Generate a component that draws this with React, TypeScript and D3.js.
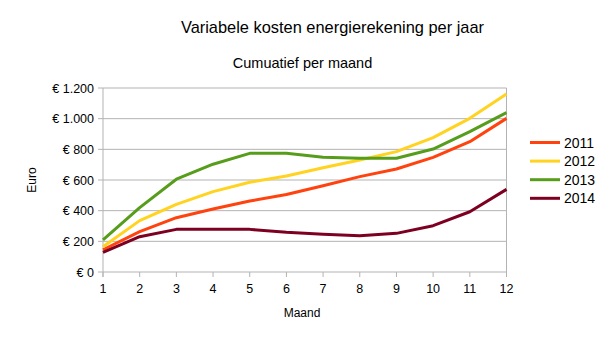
import React from "react";
import * as d3 from "d3";

const months = [1, 2, 3, 4, 5, 6, 7, 8, 9, 10, 11, 12];
const s2011 = [145, 263, 354, 411, 463, 505, 563, 622, 672, 748, 850, 1002];
const s2012 = [165, 335, 441, 524, 585, 626, 680, 730, 785, 876, 1002, 1161];
const s2013 = [209, 420, 605, 703, 774, 774, 748, 742, 742, 802, 915, 1039];
const s2014 = [128, 230, 278, 278, 278, 259, 246, 237, 252, 302, 393, 539];
const seriesNames = ["2011", "2012", "2013", "2014"];
const seriesColors = ["#ff420e", "#ffd320", "#579d1c", "#7e0021"];
const yTicks = [0, 200, 400, 600, 800, 1000, 1200];

const fmt = (v: number) => "€ " + d3.format(",")(v).replace(/,/g, ".");

export default function App() {
  const W = 604, H = 340;
  const x = d3.scaleLinear().domain([1, 12]).range([103, 506.5]);
  const y = d3.scaleLinear().domain([0, 1200]).range([272, 88]);
  const data = [s2011, s2012, s2013, s2014];
  const line = d3.line<number>().x((_, i) => x(months[i])).y((d) => y(d));
  const font = "'Liberation Sans', Arial, sans-serif";
  return (
    <svg width={W} height={H} style={{ position: "absolute", left: 0, top: 0 }} fontFamily={font}>
      <rect width={W} height={H} fill="#fff" />
      <text x={332.5} y={33} textAnchor="middle" fontSize={16.4} fill="#000">Variabele kosten energierekening per jaar</text>
      <text x={302.5} y={68} textAnchor="middle" fontSize={14.5} fill="#000">Cumuatief per maand</text>
      {yTicks.map((t) => (
        <g key={t}>
          <line x1={98} x2={506.5} y1={y(t)} y2={y(t)} stroke="#b3b3b3" strokeWidth={1} />
          <text x={94} y={y(t) + 4.5} textAnchor="end" fontSize={12.5} fill="#000">{fmt(t)}</text>
        </g>
      ))}
      <line x1={103} x2={103} y1={88} y2={277} stroke="#b3b3b3" />
      <line x1={506.5} x2={506.5} y1={88} y2={272} stroke="#b3b3b3" />
      {months.map((m) => (
        <g key={m}>
          <line x1={x(m)} x2={x(m)} y1={272} y2={277} stroke="#b3b3b3" />
          <text x={x(m)} y={292.5} textAnchor="middle" fontSize={12.5} fill="#000">{m}</text>
        </g>
      ))}
      <text transform={`translate(36,${y(600)}) rotate(-90)`} textAnchor="middle" fontSize={12} fill="#000">Euro</text>
      <text x={302} y={317} textAnchor="middle" fontSize={12} fill="#000">Maand</text>
      {data.map((d, i) => (
        <path key={i} d={line(d) || ""} fill="none" stroke={seriesColors[i]} strokeWidth={3} strokeLinejoin="round" />
      ))}
      {seriesNames.map((n, i) => (
        <g key={n}>
          <line x1={530} x2={560} y1={142.5 + i * 18.6} y2={142.5 + i * 18.6} stroke={seriesColors[i]} strokeWidth={3} />
          <text x={564} y={142.5 + i * 18.6 + 5} fontSize={14} fill="#000">{n}</text>
        </g>
      ))}
    </svg>
  );
}
